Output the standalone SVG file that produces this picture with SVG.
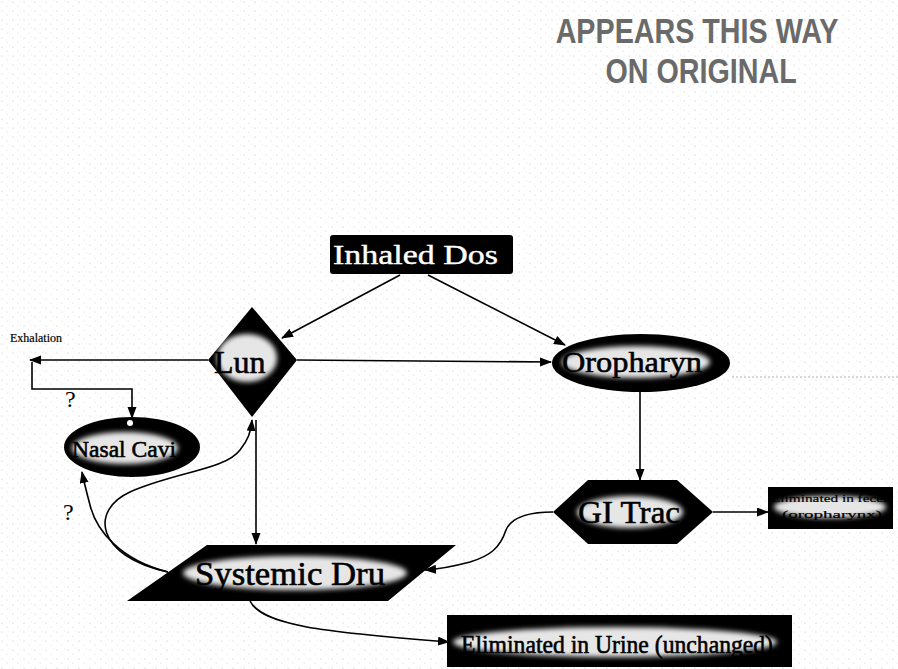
<svg xmlns="http://www.w3.org/2000/svg" width="898" height="669" viewBox="0 0 898 669">
<defs>
<pattern id="noise" width="11" height="9" patternUnits="userSpaceOnUse">
<circle cx="2" cy="2" r="0.6" fill="#bdbdbd"/>
<circle cx="7" cy="6" r="0.5" fill="#c8c8c8"/>
<circle cx="9.5" cy="1" r="0.4" fill="#d0d0d0"/>
</pattern>
<filter id="blur" x="-30%" y="-30%" width="160%" height="160%"><feGaussianBlur stdDeviation="2.5"/></filter>
<marker id="arr" markerWidth="12" markerHeight="10" refX="11" refY="4.5" orient="auto" markerUnits="userSpaceOnUse">
<path d="M0,0 L12,4.5 L0,9 Z" fill="#000"/>
</marker>
</defs>
<style>
.shape{fill:#000}
.halo{fill:#e6e6e6;filter:url(#blur)}
.lbl{font-family:"Liberation Serif","Times New Roman",serif;fill:#000;stroke:#000;stroke-width:0.6}
.wl{font-family:"Liberation Serif","Times New Roman",serif;fill:#fff;stroke:#fff;stroke-width:0.4}
.edge{fill:none;stroke:#000;stroke-width:1.6}
.q{font-family:"Liberation Serif","Times New Roman",serif;font-size:24px;fill:#000}
.hdr{font-family:"Liberation Sans",Arial,sans-serif;font-size:35px;font-weight:bold;fill:#6a6a6a}
</style>
<rect width="898" height="669" fill="#fff"/>
<rect width="898" height="669" fill="url(#noise)"/>

<g id="stamp" transform="translate(697,0) scale(0.82,1)">
<text class="hdr" x="0" y="43" text-anchor="middle">APPEARS THIS WAY</text>
<text class="hdr" x="5" y="83" text-anchor="middle">ON ORIGINAL</text>
</g>

<line x1="732" y1="377" x2="898" y2="377" stroke="#b0b0b0" stroke-width="1" stroke-dasharray="2,2"/>

<g id="connectors">
<line class="edge" x1="400" y1="275" x2="282" y2="338" marker-end="url(#arr)"/>
<line class="edge" x1="428" y1="275" x2="565" y2="345" marker-end="url(#arr)"/>
<line class="edge" x1="297" y1="360" x2="551" y2="362" marker-end="url(#arr)"/>
<line class="edge" x1="208" y1="360" x2="30" y2="360" marker-end="url(#arr)"/>
<path class="edge" d="M32,362 L32,389 L132,389 L132,418" marker-end="url(#arr)"/>
<line class="edge" x1="640" y1="392" x2="640" y2="480" marker-end="url(#arr)"/>
<line class="edge" x1="713" y1="512" x2="768" y2="512" marker-end="url(#arr)"/>
<line class="edge" x1="256" y1="420" x2="256" y2="544" marker-end="url(#arr)"/>
<path class="edge" d="M168,572 C95,556 90,510 130,492 C175,472 225,470 240,450 C248,440 251,432 252,420" marker-end="url(#arr)"/>
<path class="edge" d="M168,572 C120,560 96,530 90,505 C86,490 84,482 82,472" marker-end="url(#arr)"/>
<path class="edge" d="M553,512 C530,512 512,516 506,530 C500,548 490,556 470,562 C455,566 440,569 425,570" marker-end="url(#arr)"/>
<path class="edge" d="M250,601 C262,625 320,632 449,642" marker-end="url(#arr)"/>
</g>

<g id="node-inhaled">
<rect class="shape" x="330" y="235" width="183" height="39" rx="3"/>
<text class="wl" x="333" y="264" font-size="28" textLength="165" lengthAdjust="spacingAndGlyphs">Inhaled Dos</text>
</g>

<g id="node-lung">
<polygon class="shape" points="252,307 297,360 252,417 208,360"/>
<ellipse class="halo" cx="247" cy="358" rx="30" ry="24"/>
<text class="lbl" x="214" y="373" font-size="32">Lun</text>
</g>

<g id="node-oropharynx">
<ellipse class="shape" cx="641" cy="363" rx="89" ry="29"/>
<ellipse class="halo" cx="636" cy="362" rx="74" ry="16"/>
<text class="lbl" x="562" y="372" font-size="30" textLength="140" lengthAdjust="spacingAndGlyphs">Oropharyn</text>
</g>

<g id="label-exhalation">
<text class="lbl" x="10" y="342" font-size="12" style="stroke-width:0.2">Exhalation</text>
</g>

<g id="node-nasal">
<ellipse class="shape" cx="132" cy="447" rx="68" ry="30"/>
<ellipse class="halo" cx="125" cy="448" rx="53" ry="16"/>
<circle cx="130" cy="423" r="3" fill="#fff"/>
<text class="lbl" x="72" y="457" font-size="24" textLength="104" lengthAdjust="spacingAndGlyphs">Nasal Cavi</text>
</g>

<text class="q" x="65" y="407">?</text>
<text class="q" x="63" y="520">?</text>

<g id="node-gi">
<polygon class="shape" points="553,512 588,480 677,480 713,512 677,544 588,544"/>
<ellipse class="halo" cx="630" cy="512" rx="53" ry="16"/>
<text class="lbl" x="578" y="523" font-size="32" textLength="102" lengthAdjust="spacingAndGlyphs">GI Trac</text>
</g>

<g id="node-feces">
<rect class="shape" x="768" y="487" width="125" height="42"/>
<ellipse class="halo" cx="830" cy="507" rx="56" ry="11"/>
<text class="lbl" x="771" y="502" font-size="11" textLength="118" lengthAdjust="spacingAndGlyphs" style="stroke-width:0.2">Eliminated in feces</text>
<text class="lbl" x="782" y="518" font-size="11" textLength="100" lengthAdjust="spacingAndGlyphs" style="stroke-width:0.2">(oropharynx)</text>
</g>

<g id="node-systemic">
<polygon class="shape" points="207,545 456,545 388,601 127,601"/>
<ellipse class="halo" cx="295" cy="573" rx="112" ry="17"/>
<text class="lbl" x="195" y="585" font-size="33" textLength="190" lengthAdjust="spacingAndGlyphs">Systemic Dru</text>
</g>

<g id="node-urine">
<rect class="shape" x="447" y="615" width="345" height="52"/>
<ellipse class="halo" cx="615" cy="642" rx="162" ry="15"/>
<text class="lbl" x="461" y="653" font-size="26" textLength="312" lengthAdjust="spacingAndGlyphs">Eliminated in Urine (unchanged)</text>
</g>
</svg>
